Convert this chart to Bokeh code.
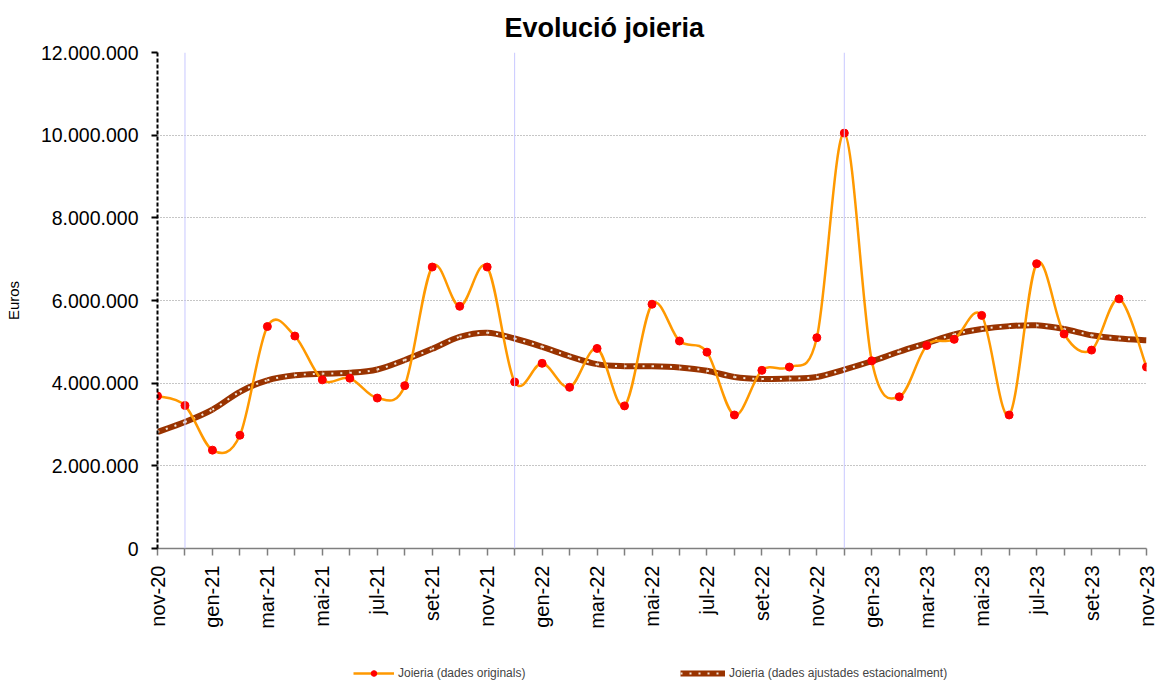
from math import pi
from bokeh.plotting import figure
from bokeh.layouts import column
from bokeh.models import Range1d, FixedTicker, Span, Legend, LegendItem, ColumnDataSource
from bokeh.embed import file_html
from bokeh.resources import INLINE

# ---------------- data ----------------
months = ["nov-20", "des-20", "gen-21", "feb-21", "mar-21", "abr-21", "mai-21", "jun-21",
          "jul-21", "ago-21", "set-21", "oct-21", "nov-21", "des-21", "gen-22", "feb-22",
          "mar-22", "abr-22", "mai-22", "jun-22", "jul-22", "ago-22", "set-22", "oct-22",
          "nov-22", "des-22", "gen-23", "feb-23", "mar-23", "abr-23", "mai-23", "jun-23",
          "jul-23", "ago-23", "set-23", "oct-23", "nov-23"]

original = [3690000, 3460000, 2380000, 2740000, 5370000, 5140000, 4080000, 4120000,
            3640000, 3940000, 6810000, 5860000, 6810000, 4030000, 4480000, 3900000,
            4840000, 3450000, 5910000, 5020000, 4750000, 3230000, 4310000, 4390000,
            5100000, 10050000, 4540000, 3670000, 4910000, 5060000, 5640000, 3230000,
            6890000, 5190000, 4800000, 6040000, 4390000]

adjusted = [2820000, 3060000, 3360000, 3790000, 4070000, 4190000, 4230000, 4250000,
            4330000, 4560000, 4830000, 5120000, 5220000, 5080000, 4880000, 4650000,
            4460000, 4410000, 4410000, 4380000, 4300000, 4150000, 4100000, 4110000,
            4150000, 4330000, 4530000, 4760000, 4970000, 5180000, 5310000, 5380000,
            5400000, 5310000, 5160000, 5080000, 5040000]

year_marks = ["des-20", "des-21", "des-22"]

y_ticks = [0, 2000000, 4000000, 6000000, 8000000, 10000000, 12000000]
y_tick_labels = ["0", "2.000.000", "4.000.000", "6.000.000", "8.000.000", "10.000.000", "12.000.000"]

title_text = "Evolució joieria"
y_label = "Euros"
label_orig = "Joieria (dades originals)"
label_adj = "Joieria (dades ajustades estacionalment)"

FONT = "Liberation Sans"
ORANGE, RED, BROWN, DOTS = "#FF9900", "#FF0000", "#993300", "#F2E6DA"


def smooth_segments(ys):
    """Bezier control points (Catmull-Rom style smoothing, as in a smoothed spreadsheet line)."""
    n = len(ys)
    xs = list(range(n))
    d = dict(x0=[], y0=[], x1=[], y1=[], cx0=[], cy0=[], cx1=[], cy1=[])
    for i in range(n - 1):
        im1 = max(i - 1, 0)
        ip2 = min(i + 2, n - 1)
        d["x0"].append(xs[i]); d["y0"].append(ys[i])
        d["x1"].append(xs[i + 1]); d["y1"].append(ys[i + 1])
        d["cx0"].append(xs[i] + (xs[i + 1] - xs[im1]) / 6.0)
        d["cy0"].append(ys[i] + (ys[i + 1] - ys[im1]) / 6.0)
        d["cx1"].append(xs[i + 1] - (xs[ip2] - xs[i]) / 6.0)
        d["cy1"].append(ys[i + 1] - (ys[ip2] - ys[i]) / 6.0)
    return ColumnDataSource(d)


x_idx = list(range(len(months)))
BEZ = dict(x0="x0", y0="y0", x1="x1", y1="y1", cx0="cx0", cy0="cy0", cx1="cx1", cy1="cy1")

# ---------------- main chart ----------------
p = figure(width=1163, height=655, output_backend="svg", toolbar_location=None,
           x_range=Range1d(0, len(months) - 1), y_range=Range1d(0, 12000000),
           min_border_left=157, min_border_right=17, min_border_top=52, min_border_bottom=107)

p.outline_line_color = None
p.background_fill_color = "white"

p.title.text = title_text
p.title.text_font = FONT
p.title.text_font_size = "27px"
p.title.text_font_style = "bold"
p.title.text_color = "black"
p.title.align = "left"
p.title.offset = 347
p.title.standoff = 20

p.xgrid.grid_line_color = None
p.ygrid.ticker = FixedTicker(ticks=y_ticks)
p.ygrid.grid_line_color = "#8C8C8C"
p.ygrid.grid_line_dash = "1 2"
p.ygrid.grid_line_width = 1

p.yaxis.ticker = FixedTicker(ticks=y_ticks)
p.yaxis.major_label_overrides = {t: l for t, l in zip(y_ticks, y_tick_labels)}
p.yaxis.axis_line_color = "black"
p.yaxis.axis_line_dash = "4 2"
p.yaxis.axis_line_width = 2
p.yaxis.major_tick_out = 6
p.yaxis.major_tick_in = 0
p.yaxis.major_tick_line_color = "black"
p.yaxis.major_tick_line_width = 2
p.yaxis.minor_tick_line_color = None
p.yaxis.major_label_text_font = FONT
p.yaxis.major_label_text_font_size = "19.5px"
p.yaxis.major_label_text_color = "black"
p.yaxis.major_label_standoff = 13
p.yaxis.axis_label = y_label
p.yaxis.axis_label_text_font = FONT
p.yaxis.axis_label_text_font_size = "15px"
p.yaxis.axis_label_text_font_style = "normal"
p.yaxis.axis_label_text_color = "black"
p.yaxis.axis_label_standoff = 16

p.xaxis.ticker = FixedTicker(ticks=x_idx)
p.xaxis.major_label_overrides = {i: (m if i % 2 == 0 else "") for i, m in enumerate(months)}
p.xaxis.major_label_orientation = pi / 2
p.xaxis.major_label_text_font = FONT
p.xaxis.major_label_text_font_size = "20px"
p.xaxis.major_label_text_color = "black"
p.xaxis.axis_line_color = "#7F7F7F"
p.xaxis.axis_line_width = 1.5
p.xaxis.major_tick_out = 7
p.xaxis.major_tick_in = 0
p.xaxis.major_tick_line_color = "#7F7F7F"
p.xaxis.major_tick_line_width = 1.5
p.xaxis.minor_tick_line_color = None
p.xaxis.major_label_standoff = 10

for m in year_marks:
    p.add_layout(Span(location=months.index(m), dimension="height",
                      line_color="#C8C8FF", line_width=1))

src_adj = smooth_segments(adjusted)
p.bezier(source=src_adj, line_color=BROWN, line_width=6, **BEZ)
p.bezier(source=src_adj, line_color=DOTS, line_width=2, line_dash="2 7", **BEZ)

src_orig = smooth_segments(original)
p.bezier(source=src_orig, line_color=ORANGE, line_width=2.5, **BEZ)
p.scatter(x=x_idx, y=original, size=8, fill_color=RED, line_color=RED)

# ---------------- legend strip (same series, drawn outside its view; only the legend shows) ----------------
lg = figure(width=1163, height=30, output_backend="svg", toolbar_location=None,
            x_range=Range1d(-100, -99), y_range=Range1d(-100, -99),
            x_axis_location=None, y_axis_location=None,
            min_border_left=0, min_border_right=0, min_border_top=0, min_border_bottom=0)
lg.outline_line_color = None
lg.xgrid.grid_line_color = None
lg.ygrid.grid_line_color = None

lo_line = lg.line(x=x_idx, y=original, line_color=ORANGE, line_width=2.5)
lo_dots = lg.scatter(x=x_idx, y=original, size=8, fill_color=RED, line_color=RED)
la_line = lg.line(x=x_idx, y=adjusted, line_color=BROWN, line_width=6)
la_dots = lg.line(x=x_idx, y=adjusted, line_color=DOTS, line_width=2, line_dash="2 7")

# frame of the strip is aligned with the chart frame by the column layout
leg1 = Legend(items=[LegendItem(label=label_orig, renderers=[lo_line, lo_dots])],
              location=(196, 5), orientation="horizontal", glyph_width=41, glyph_height=14,
              padding=0, margin=0, border_line_color=None, background_fill_alpha=0,
              label_text_font=FONT, label_text_font_size="12px", label_standoff=4, label_height=14)
leg2 = Legend(items=[LegendItem(label=label_adj, renderers=[la_line, la_dots])],
              location=(523, 5), orientation="horizontal", glyph_width=45, glyph_height=14,
              padding=0, margin=0, border_line_color=None, background_fill_alpha=0,
              label_text_font=FONT, label_text_font_size="12px", label_standoff=4, label_height=14)
lg.add_layout(leg1, "center")
lg.add_layout(leg2, "center")

layout = column(p, lg, spacing=0)

open("out.html", "w").write(file_html(layout, INLINE))
